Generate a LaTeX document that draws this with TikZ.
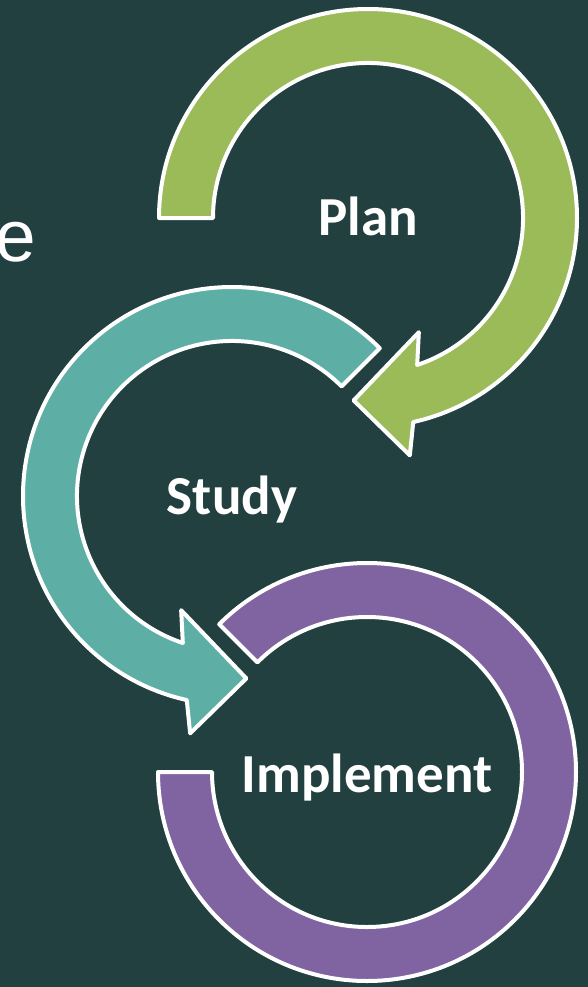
\documentclass[tikz,border=0pt]{standalone}
\usepackage{fontspec}
\setmainfont{Carlito}
\newfontfamily\arialfont{Liberation Sans}
\usetikzlibrary{calc}
\definecolor{bg}{HTML}{21403F}
\definecolor{plangreen}{HTML}{9BBB59}
\definecolor{studyteal}{HTML}{5DAFA6}
\definecolor{implpurple}{HTML}{8064A2}
\tikzset{
    ring/.style={draw=white, line width=4pt, line join=round},
    lbl/.style={text=white, font=\fontsize{55}{60}\selectfont\bfseries, anchor=base, inner sep=0pt}
}

\begin{document}
\begin{tikzpicture}[x=1pt, y=-1pt]
    \fill[bg](0, 0)rectangle(588, 987);
    \useasboundingbox(0, 0)rectangle(588, 987);
    \coordinate(gc)at(368, 218);
    \coordinate(tc)at(232, 496);
    \coordinate(pc)at(367, 772);
    \node[text=white, font=\arialfont\fontsize{73}{80}\selectfont, anchor=base east, inner sep=0pt](etxt)at(36, 261){e};
    % plan
    \draw[ring, fill=plangreen]($(gc)+(180:209)$)arc[start angle=180, end angle=437.5, radius=209]
        --($(gc)+(80:241)$)--($(gc)+(94.5:183)$)--($(gc)+(66:125)$)--($(gc)+(71.5:155)$)
        arc[start angle=431.5, end angle=180, radius=155]--cycle;
    % study
    \draw[ring, fill=studyteal]($(tc)+(-45:209)$)arc[start angle=-45, end angle=-257.5, radius=209]
        --($(tc)+(100:241)$)--($(tc)+(85.5:183)$)--($(tc)+(114:125)$)--($(tc)+(108.5:155)$)
        arc[start angle=-251.5, end angle=-45, radius=155]--cycle;
    % implement
    \draw[ring, fill=implpurple]($(pc)+(180:209)$)arc[start angle=180, end angle=-135, radius=209]
        --($(pc)+(-135:155)$)arc[start angle=-135, end angle=180, radius=155]--cycle;
    \node[lbl](plan)at([yshift=-17.5pt]gc){Plan};
    \node[lbl](study)at([yshift=-18pt]tc){Study};
    \node[lbl](impl)at([yshift=-20pt]pc){Implement};
\end{tikzpicture}
\end{document}
